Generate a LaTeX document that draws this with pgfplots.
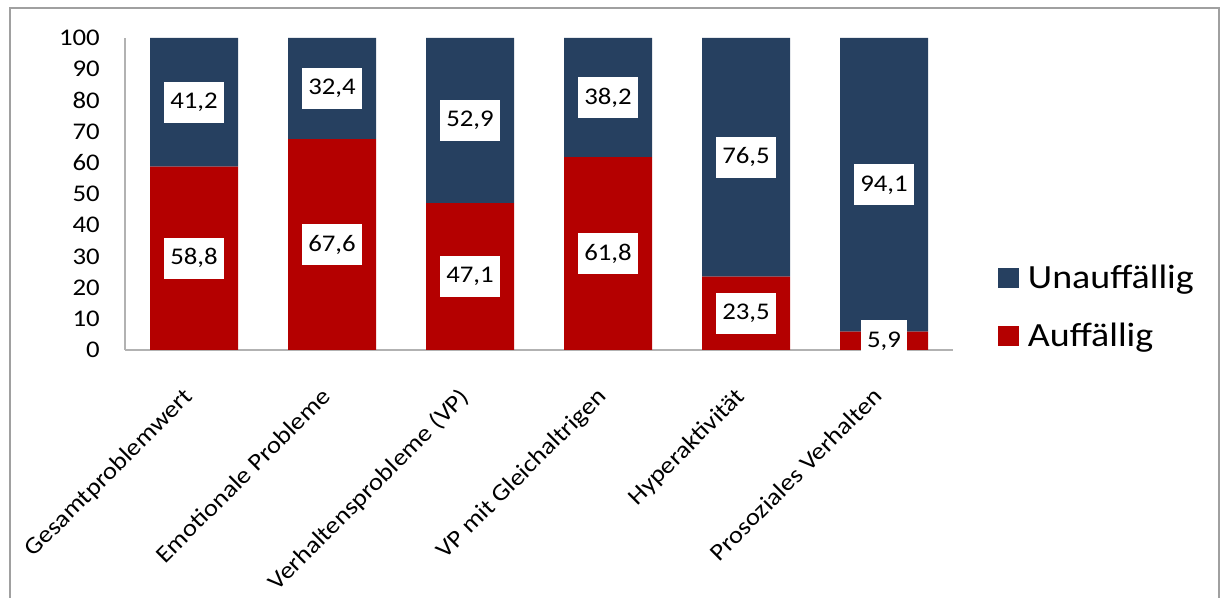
\documentclass[border=0pt]{standalone}
\usepackage{fontspec}
\setmainfont{Carlito}[FakeStretch=1.12]
\usepackage{pgfplots}
\pgfplotsset{compat=1.18}

\definecolor{auffred}{RGB}{180,0,0}
\definecolor{unaufblue}{RGB}{38,64,96}
\definecolor{framegray}{RGB}{160,160,160}

\begin{document}
\begin{tikzpicture}
\useasboundingbox (0,0) rectangle (1226bp,598bp);
\draw[framegray, line width=1.8bp] (10bp,-20bp) -- (10bp,590bp) -- (1219bp,590bp) -- (1219bp,-20bp);
\begin{axis}[
    at={(125bp,248bp)}, anchor=south west,
    scale only axis,
    width=828bp, height=312bp,
    ybar stacked,
    bar width=88bp,
    xmin=-0.5, xmax=5.5,
    ymin=0, ymax=100,
    xtick={0,1,2,3,4,5},
    xticklabels={Gesamtproblemwert, Emotionale Probleme, Verhaltensprobleme (VP), VP mit Gleichaltrigen, Hyperaktivität, Prosoziales Verhalten},
    ytick={0,10,...,100},
    major tick length=0pt,
    axis x line=bottom, axis y line=left,
    axis line style={-, draw=gray!60, line width=1.2bp},
    /pgf/number format/assume math mode=true,
    yticklabel style={font=\fontsize{24}{28}\selectfont, anchor=east, inner sep=0pt, xshift=-25bp},
    xticklabel style={xshift=-12bp, yshift=-36bp, rotate=45, anchor=north east, inner sep=0pt,
        font=\fontsize{24}{28}\selectfont},
    point meta=rawy,
    nodes near coords={\pgfmathprintnumber[fixed, precision=1, fixed zerofill, use comma]{\pgfplotspointmeta}},
    every node near coord/.append style={
        font=\fontsize{24}{28}\selectfont, fill=white, anchor=center,
        inner xsep=6bp, minimum height=41bp, text=black},
    reverse legend,
    legend cell align=left,
    legend style={at={(1.054,0.138)}, anchor=west, draw=none, fill=none,
        font=\fontsize{34}{38}\selectfont, row sep=29bp, inner sep=0pt,
        nodes={inner sep=2bp}},
    legend image code/.code={
        \fill[#1] (0bp,-10bp) rectangle (21bp,10bp);
        \path[draw=none, fill=none] (0bp,0bp) rectangle (28bp,1bp);},
]
\addplot[fill=auffred, draw=none] coordinates {
    (0,58.8) (1,67.6) (2,47.1) (3,61.8) (4,23.5) (5,5.9)};
\addplot[fill=unaufblue, draw=none] coordinates {
    (0,41.2) (1,32.4) (2,52.9) (3,38.2) (4,76.5) (5,94.1)};
\legend{Auffällig, Unauffällig}
\end{axis}
\end{tikzpicture}
\end{document}
